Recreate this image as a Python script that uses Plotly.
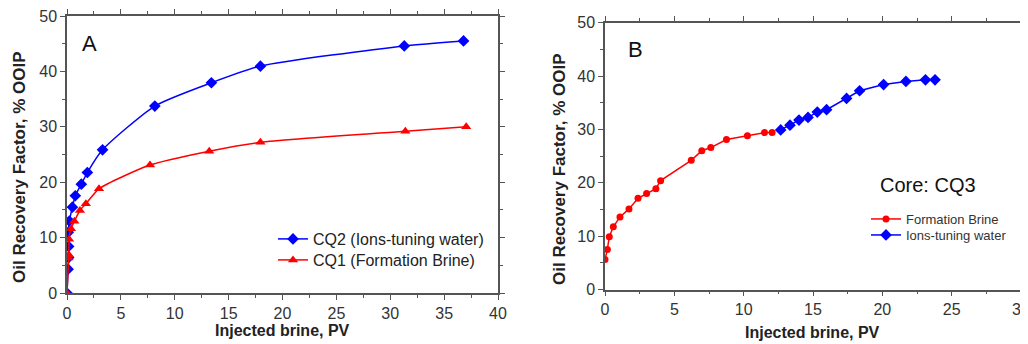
import plotly.graph_objects as go

# Panel A
cq2_x = [0, 0.1, 0.15, 0.15, 0.12, 0.22, 0.5, 0.77, 1.33, 1.89, 3.3, 8.15, 13.4, 17.95, 31.3, 36.8]
cq2_y = [0, 4.3, 6.4, 8.4, 10.95, 13.0, 15.5, 17.55, 19.65, 21.75, 25.85, 33.75, 37.95, 40.95, 44.6, 45.5]
cq1_x = [0, 0.15, 0.17, 0.19, 0.37, 0.68, 1.2, 1.75, 2.97, 7.7, 13.2, 17.95, 31.4, 37.05]
cq1_y = [0, 6.3, 6.9, 9.7, 11.6, 12.95, 14.9, 16.1, 18.8, 23.1, 25.6, 27.2, 29.2, 30.0]

# Panel B
fb_x = [0, 0.17, 0.31, 0.6, 1.08, 1.73, 2.38, 3.0, 3.67, 4.01, 6.22, 6.98, 7.63, 8.76, 10.27, 11.5, 12.05]
fb_y = [5.6, 7.5, 9.9, 11.75, 13.6, 15.1, 17.1, 18.0, 18.9, 20.4, 24.2, 26.0, 26.6, 28.1, 28.8, 29.4, 29.4]
itw_x = [12.67, 13.34, 13.99, 14.64, 15.31, 15.98, 17.42, 18.36, 20.09, 21.7, 23.11, 23.8]
itw_y = [29.9, 30.8, 31.75, 32.25, 33.25, 33.7, 35.8, 37.25, 38.4, 39.0, 39.3, 39.3]

BLUE = "#0000ff"
RED = "#ff0000"
FONT = "Liberation Sans, Arial, sans-serif"

W, H = 1028, 344
OFF = 8  # page body margin


def px(x):
    return (x - OFF) / W


def py(y):
    return 1 - (y - OFF) / H


fig = go.Figure()
fig.add_trace(go.Scatter(x=cq2_x, y=cq2_y, mode="lines+markers", name="CQ2 (Ions-tuning water)",
                         line=dict(color=BLUE, width=1.5, shape="spline", smoothing=0.6),
                         marker=dict(symbol="diamond", size=9, color=BLUE),
                         xaxis="x", yaxis="y", legend="legend"))
fig.add_trace(go.Scatter(x=cq1_x, y=cq1_y, mode="lines+markers", name="CQ1 (Formation Brine)",
                         line=dict(color=RED, width=1.5, shape="spline", smoothing=0.6),
                         marker=dict(symbol="triangle-up", size=9, color=RED),
                         xaxis="x", yaxis="y", legend="legend3"))
fig.add_trace(go.Scatter(x=fb_x, y=fb_y, mode="lines+markers", name="Formation Brine",
                         line=dict(color=RED, width=1.5),
                         marker=dict(symbol="circle", size=7, color=RED),
                         xaxis="x2", yaxis="y2", legend="legend2"))
fig.add_trace(go.Scatter(x=itw_x, y=itw_y, mode="lines+markers", name="Ions-tuning water",
                         line=dict(color=BLUE, width=1.5),
                         marker=dict(symbol="diamond", size=9, color=BLUE),
                         xaxis="x2", yaxis="y2", legend="legend4"))

axis_common = dict(showline=True, linecolor="#555555", linewidth=1.5, mirror="ticks",
                   ticks="outside", ticklen=5, tickcolor="#555555", tickwidth=1, showgrid=False,
                   zeroline=False, automargin=False, ticklabeloverflow="allow",
                   tickfont=dict(family=FONT, size=16, color="#333333"))
minor_common = dict(ticklen=3, ticks="outside", tickcolor="#555555", tickwidth=1)


def leg(x, y, size, color):
    return dict(x=px(x), y=py(y), xanchor="left", yanchor="middle", bgcolor="rgba(0,0,0,0)",
                font=dict(family=FONT, size=size, color=color), itemwidth=30)


fig.update_layout(
    width=W, height=H,
    margin=dict(l=0, r=0, t=0, b=0, pad=0, autoexpand=False),
    paper_bgcolor="white", plot_bgcolor="white",
    font=dict(family=FONT, color="#222222"),
    xaxis=dict(domain=[px(67), px(498)], range=[0, 40], dtick=5, anchor="y",
               minor=dict(dtick=2.5, **minor_common), **axis_common),
    yaxis=dict(domain=[py(293), py(16)], range=[0, 50], dtick=10, anchor="x",
               minor=dict(dtick=5, **minor_common), **axis_common),
    xaxis2=dict(domain=[px(605), px(1021)], range=[0, 30], dtick=5, anchor="y2",
                minor=dict(dtick=2.5, **minor_common), **axis_common),
    yaxis2=dict(domain=[py(289.5), py(22.7)], range=[0, 50], dtick=10, anchor="x2",
                minor=dict(dtick=5, **minor_common), **axis_common),
    legend=leg(273, 239, 16, "#222222"),
    legend3=leg(273, 260, 16, "#222222"),
    legend2=leg(866, 219, 13, "#333333"),
    legend4=leg(866, 235, 13, "#333333"),
    showlegend=True,
)

ann = dict(xref="paper", yref="paper", showarrow=False, xanchor="center", yanchor="middle")
annotations = [
    dict(text="A", x=px(89), y=py(44), font=dict(family=FONT, size=22, color="#111111"), **ann),
    dict(text="B", x=px(635), y=py(49), font=dict(family=FONT, size=22, color="#111111"), **ann),
    dict(text="Core: CQ3", x=px(928), y=py(185), font=dict(family=FONT, size=20, color="#111111"), **ann),
    dict(text="<b>Oil Recovery Factor, % OOIP</b>", x=px(20), y=py(168), textangle=-90,
         font=dict(family=FONT, size=17, color="#222222"), **ann),
    dict(text="<b>Oil Recovery Factor, % OOIP</b>", x=px(560), y=py(170), textangle=-90,
         font=dict(family=FONT, size=17, color="#222222"), **ann),
    dict(text="<b>Injected brine, PV</b>", x=px(282), y=py(330), font=dict(family=FONT, size=16, color="#222222"), **ann),
    dict(text="<b>Injected brine, PV</b>", x=px(812), y=py(332), font=dict(family=FONT, size=16, color="#222222"), **ann),
]
fig.update_layout(annotations=annotations)

fig.write_html("out.html")
